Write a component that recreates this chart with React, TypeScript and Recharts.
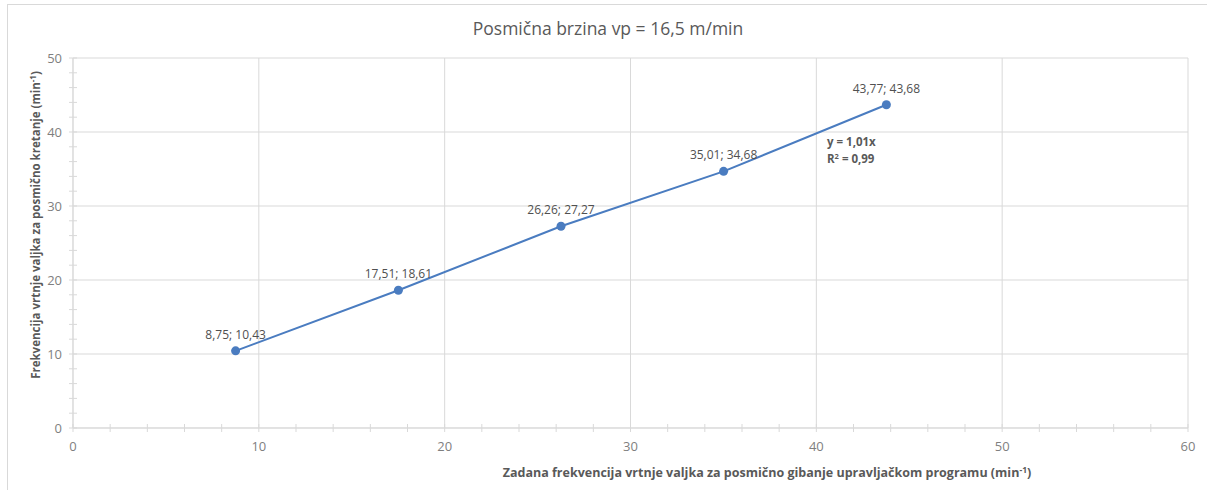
import React from 'react';
import { ScatterChart, Scatter, XAxis, YAxis, CartesianGrid } from 'recharts';

const xValues = [8.75, 17.51, 26.26, 35.01, 43.77];
const yValues = [10.43, 18.61, 27.27, 34.68, 43.68];

const xTicks = [0, 2, 4, 6, 8, 10, 12, 14, 16, 18, 20, 22, 24, 26, 28, 30, 32, 34, 36, 38, 40, 42, 44, 46, 48, 50, 52, 54, 56, 58, 60];
const yTicks = [0, 2, 4, 6, 8, 10, 12, 14, 16, 18, 20, 22, 24, 26, 28, 30, 32, 34, 36, 38, 40, 42, 44, 46, 48, 50];
const xMajor = [0, 10, 20, 30, 40, 50, 60];
const yMajor = [0, 10, 20, 30, 40, 50];

const title = 'Posmična brzina vp = 16,5 m/min';
const xTitle = 'Zadana frekvencija vrtnje valjka za posmično gibanje upravljačkom programu (min';
const yTitle = 'Frekvencija vrtnje valjka za posmično kretanje (min';
const eqLine1 = 'y = 1,01x';
const eqLine2 = ' = 0,99';

const data = xValues.map((x, i) => ({ x, y: yValues[i] }));
const fmt = (v: number) => v.toFixed(2).replace('.', ',');

const FONT = "'Open Sans', 'Liberation Sans', sans-serif";
const GRID = '#d9d9d9';
const BLUE = '#4a7cc0';

const XTick = (props: any) => {
  const { x, y, payload } = props;
  const v = payload.value;
  const major = xMajor.includes(v);
  return (
    <g>
      <line x1={x} x2={x} y1={y - 4} y2={y + 4} stroke={GRID} strokeWidth={1} />
      {major && (
        <text x={x} y={y + 23} textAnchor="middle" fill="#7f7f7f" fontSize={13} fontFamily={FONT}>
          {v}
        </text>
      )}
    </g>
  );
};

const YTick = (props: any) => {
  const { x, y, payload } = props;
  const v = payload.value;
  const major = yMajor.includes(v);
  return (
    <g>
      <line x1={x - 4} x2={x + 4} y1={y} y2={y} stroke={GRID} strokeWidth={1} />
      {major && (
        <text x={x - 11} y={y + 4.5} textAnchor="end" fill="#7f7f7f" fontSize={13} fontFamily={FONT}>
          {v}
        </text>
      )}
    </g>
  );
};

const PointShape = (props: any) => {
  const { cx, cy, payload } = props;
  return (
    <g>
      <circle cx={cx} cy={cy} r={4.5} fill={BLUE} />
      <text x={cx} y={cy - 12} textAnchor="middle" fill="#505050" fontSize={12} fontFamily={FONT}>
        {fmt(payload.x)}; {fmt(payload.y)}
      </text>
    </g>
  );
};

export default function App() {
  return (
    <div style={{ position: 'absolute', left: 0, top: 0, width: 1207, height: 490, background: '#fff', overflow: 'hidden' }}>
      <div style={{ position: 'absolute', left: 7, top: 4, width: 1210, height: 500, border: `1px solid ${GRID}` }} />
      <div style={{ position: 'absolute', left: 0, top: 0 }}>
        <ScatterChart width={1207} height={490} margin={{ top: 58, right: 19, bottom: 32, left: 33 }}>
          <CartesianGrid stroke={GRID} verticalValues={xMajor} horizontalValues={yMajor} />
          <XAxis
            type="number"
            dataKey="x"
            domain={[0, 60]}
            ticks={xTicks}
            interval={0}
            height={30}
            tickSize={0}
            tickMargin={0}
            tickLine={false}
            axisLine={{ stroke: GRID }}
            tick={<XTick />}
          />
          <YAxis
            type="number"
            dataKey="y"
            domain={[0, 50]}
            ticks={yTicks}
            interval={0}
            width={40}
            tickSize={0}
            tickMargin={0}
            tickLine={false}
            axisLine={{ stroke: GRID }}
            tick={<YTick />}
          />
          <Scatter
            data={data}
            fill={BLUE}
            line={{ stroke: BLUE, strokeWidth: 2 }}
            lineType="joint"
            shape={<PointShape />}
            isAnimationActive={false}
          />
        </ScatterChart>
      </div>
      <svg width={1207} height={490} style={{ position: 'absolute', left: 0, top: 0, pointerEvents: 'none' }}>
        <text x={608} y={35} textAnchor="middle" fill="#595959" fontSize={17.5} fontFamily={FONT}>
          {title}
        </text>
        <text x={767} y={477} textAnchor="middle" fill="#595959" fontSize={12.5} fontWeight="bold" fontFamily={FONT}>
          {xTitle}
          <tspan fontSize={8.5} dy={-4.5}>-1</tspan>
          <tspan dy={4.5}>)</tspan>
        </text>
        <text
          x={0}
          y={0}
          transform="translate(40,225) rotate(-90)"
          textAnchor="middle"
          fill="#595959"
          fontSize={11.5}
          fontWeight="bold"
          fontFamily={FONT}
        >
          {yTitle}
          <tspan fontSize={8} dy={-4}>-1</tspan>
          <tspan dy={4}>)</tspan>
        </text>
        <text x={827} y={146} fill="#595959" fontSize={11.5} fontWeight="bold" fontFamily={FONT}>
          {eqLine1}
        </text>
        <text x={827} y={163} fill="#595959" fontSize={11.5} fontWeight="bold" fontFamily={FONT}>
          R<tspan fontSize={7.5} dy={-4}>2</tspan>
          <tspan dy={4}>{eqLine2}</tspan>
        </text>
      </svg>
    </div>
  );
}
